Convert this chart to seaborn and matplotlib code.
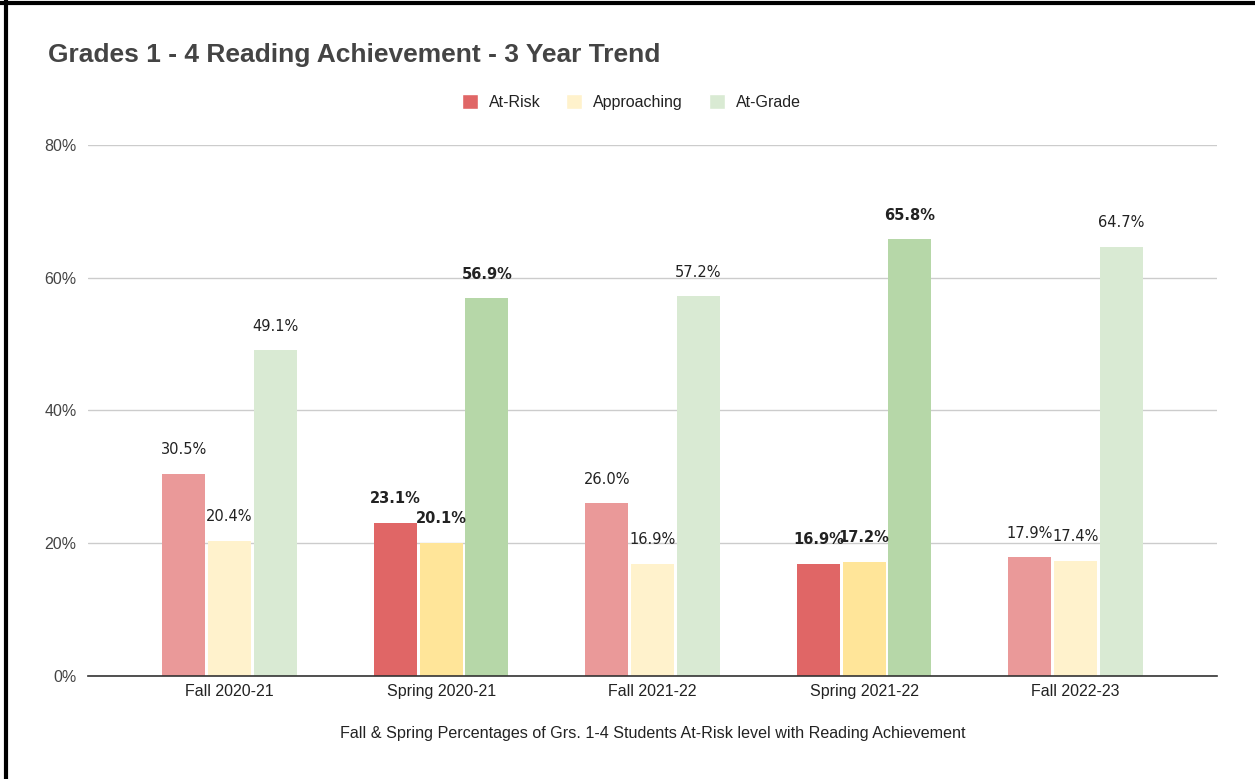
import numpy as np
import pandas as pd
import matplotlib.pyplot as plt
import seaborn as sns
from matplotlib.lines import Line2D
from matplotlib.patches import Patch

periods = ["Fall 2020-21", "Spring 2020-21", "Fall 2021-22", "Spring 2021-22", "Fall 2022-23"]
levels = ["At-Risk", "Approaching", "At-Grade"]
at_risk = [30.5, 23.1, 26.0, 16.9, 17.9]
approaching = [20.4, 20.1, 16.9, 17.2, 17.4]
at_grade = [49.1, 56.9, 57.2, 65.8, 64.7]

fall_colors = {"At-Risk": "#ea9999", "Approaching": "#fff2cc", "At-Grade": "#d9ead3"}
spring_colors = {"At-Risk": "#e06666", "Approaching": "#ffe599", "At-Grade": "#b6d7a8"}

df = pd.DataFrame({
    "period": periods * 3,
    "level": [l for l in levels for _ in periods],
    "value": at_risk + approaching + at_grade,
})

sns.set_theme(style="white")
plt.rcParams['font.family'] = ['Liberation Sans', 'DejaVu Sans']

fig = plt.figure(figsize=(12.55, 7.79), dpi=100)
ax = fig.add_axes([0.070, 0.1322, 0.900, 0.6817])

sns.barplot(data=df, x="period", y="value", hue="level", order=periods,
            hue_order=levels, width=0.65, gap=0.06, ax=ax, legend=False,
            palette=fall_colors, saturation=1)

for i, cont in enumerate(ax.containers):
    lvl = levels[i]
    for j, bar in enumerate(cont):
        spring = periods[j].startswith("Spring")
        bar.set_facecolor(spring_colors[lvl] if spring else fall_colors[lvl])
        bar.set_edgecolor("none")
        val = bar.get_height()
        ax.text(bar.get_x() + bar.get_width() / 2, val + 3.6, f"{val:.1f}%",
                ha="center", va="center", fontsize=10.5, color="#222222",
                fontweight="bold" if spring else "normal",
                family=['DejaVu Sans'])

ax.set_ylim(0, 80)
ax.set_xlim(-0.67, 4.67)
ax.set_yticks([0, 20, 40, 60, 80])
ax.set_yticklabels(["0%", "20%", "40%", "60%", "80%"], fontsize=11.5, color="#444444")
ax.tick_params(axis="x", labelsize=11.5, colors="#222222", length=0, pad=6)
ax.tick_params(axis="y", length=0, pad=8)
ax.yaxis.grid(True, color="#cccccc", linewidth=1)
ax.set_axisbelow(True)
for s in ["top", "right", "left"]:
    ax.spines[s].set_visible(False)
ax.spines["bottom"].set_color("#333333")
ax.spines["bottom"].set_linewidth(1.2)
ax.set_ylabel("")
ax.set_xlabel("Fall & Spring Percentages of Grs. 1-4 Students At-Risk level with Reading Achievement",
              fontsize=11.6, color="#222222", labelpad=19)

fig.text(0.038, 0.929, "Grades 1 - 4 Reading Achievement - 3 Year Trend",
         fontsize=19, fontweight="bold", color="#444444", va="center")

handles = [Patch(facecolor=spring_colors["At-Risk"] if l == "At-Risk" else fall_colors[l], label=l)
           for l in levels]
fig.legend(handles=handles, loc="center", bbox_to_anchor=(0.503, 0.869), ncol=3,
           frameon=False, fontsize=11.5, handlelength=1.0, handleheight=1.0,
           columnspacing=1.6, handletextpad=0.7, labelcolor="#222222")

fig.add_artist(Line2D([0, 1], [0.996, 0.996], color="black", linewidth=3, transform=fig.transFigure))
fig.add_artist(Line2D([0.005, 0.005], [0, 1], color="black", linewidth=3, transform=fig.transFigure))

fig.savefig("out.png", dpi=100)
